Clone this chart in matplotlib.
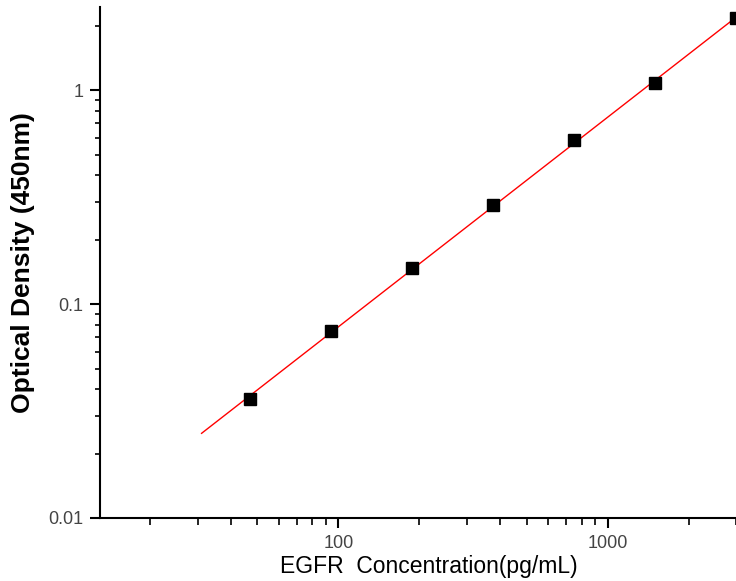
import numpy as np
import matplotlib
matplotlib.use("Agg")
import matplotlib.pyplot as plt
from matplotlib.ticker import LogLocator, FixedLocator, FixedFormatter, NullFormatter

plt.rcParams['font.family'] = ['Liberation Sans', 'DejaVu Sans']

# Data
concentration = [46.875, 93.75, 187.5, 375, 750, 1500, 3000]
od_450 = [0.036, 0.0748, 0.147, 0.290, 0.583, 1.078, 2.17]
x_ticks = [100, 1000]
x_tick_labels = ["100", "1000"]
y_ticks = [0.01, 0.1, 1]
y_tick_labels = ["0.01", "0.1", "1"]
fit_range = [31, 3000]

fig = plt.figure(figsize=(7.36, 5.81), dpi=100)
ax = fig.add_axes([100/736, 63/581, 636/736, 511/581])

# linear fit in log-log space
coef = np.polyfit(np.log10(concentration), np.log10(od_450), 1)
xf = np.logspace(np.log10(fit_range[0]), np.log10(fit_range[1]), 200)
yf = 10 ** np.polyval(coef, np.log10(xf))
ax.plot(xf, yf, color="red", lw=1.0, zorder=2)
ax.plot(concentration, od_450, ls="none", marker="s", color="black",
        markersize=8, zorder=3, clip_on=False)

ax.set_xscale("log")
ax.set_yscale("log")
ax.set_xlim(13, 3000)
ax.set_ylim(0.01, 2.45)

ax.xaxis.set_major_locator(FixedLocator(x_ticks))
ax.xaxis.set_major_formatter(FixedFormatter(x_tick_labels))
ax.xaxis.set_minor_locator(LogLocator(base=10, subs=np.arange(2, 10)))
ax.xaxis.set_minor_formatter(NullFormatter())
ax.yaxis.set_major_locator(FixedLocator(y_ticks))
ax.yaxis.set_major_formatter(FixedFormatter(y_tick_labels))
ax.yaxis.set_minor_locator(LogLocator(base=10, subs=np.arange(2, 10)))
ax.yaxis.set_minor_formatter(NullFormatter())

for s in ["top", "right"]:
    ax.spines[s].set_visible(False)
for s in ["left", "bottom"]:
    ax.spines[s].set_linewidth(1.5)

ax.tick_params(which="major", direction="out", length=7, width=1.5,
               labelsize=13, colors="black", labelcolor="#444444", pad=5)
ax.tick_params(axis="x", which="minor", direction="out", length=5, width=1.2)
ax.tick_params(axis="y", which="minor", direction="out", length=3.6, width=1.2)

fig.text(23.5/736, 1 - 263/581, "Optical Density (450nm)", rotation=90,
         fontsize=19, fontweight="bold", ha="center", va="center")
fig.text(429/736, 1 - 567/581, "EGFR  Concentration(pg/mL)",
         fontsize=16.5, ha="center", va="center")

fig.savefig("out.png", dpi=100)
